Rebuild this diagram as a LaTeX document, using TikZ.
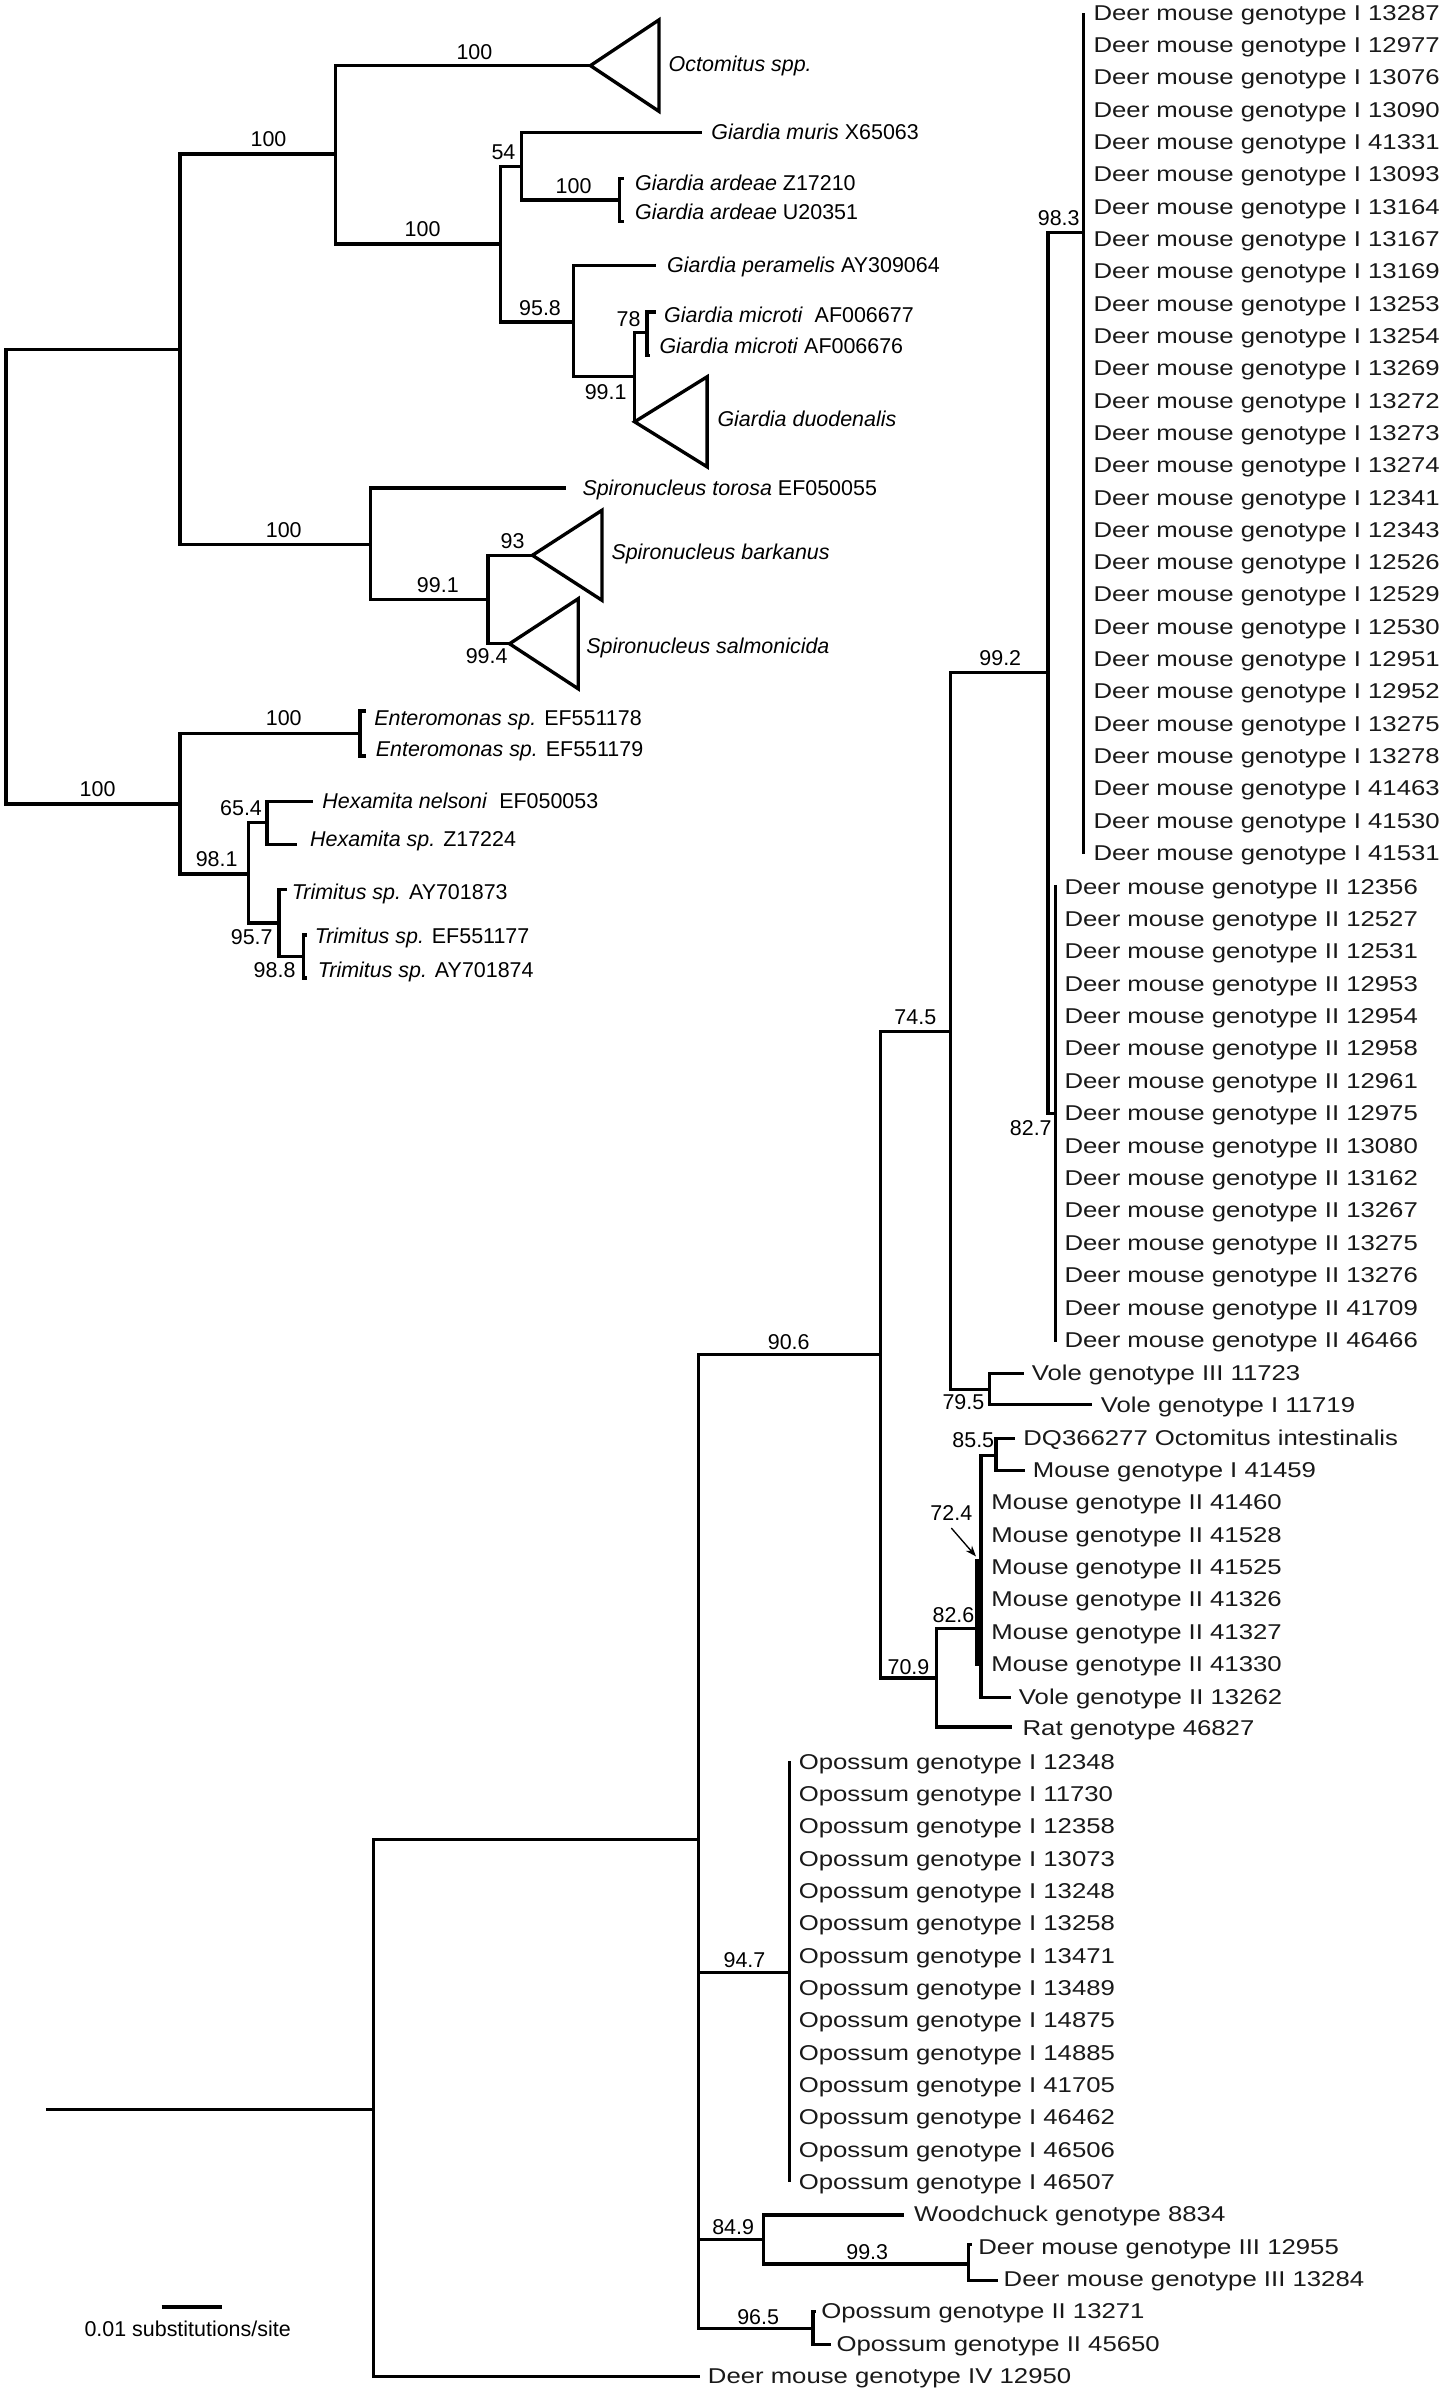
\documentclass[tikz,border=0pt]{standalone}
\usepackage{fontspec}
\setmainfont{Liberation Sans}
\newfontfamily\widesans[FakeStretch=1.2]{Liberation Sans}
\usepackage{tikz}
\usetikzlibrary{arrows.meta}

\begin{document}
\begin{tikzpicture}[x=0.02cm, y=-0.02cm]

	\tikzstyle{branch} = [line width=1.25pt]
	\tikzstyle{clade} = [line width=1.25pt, line join=miter]
	\tikzstyle{support} = [inner sep=0pt, font=\fontsize{8}{9}\selectfont]
	\tikzstyle{taxon} = [anchor=mid west, inner sep=0pt, font=\fontsize{8}{9}\selectfont]
	\tikzstyle{isolate} = [anchor=mid west, inner sep=0pt, text=black!90, font=\widesans\fontsize{8}{9}\selectfont]
	\tikzstyle{pointer} = [line width=0.5pt, -{Stealth[length=4pt, width=3pt]}]

	\useasboundingbox (0,0) rectangle (950,1568);

	% Upper tree: branch points
	\coordinate (r1) at (4,378);
	\coordinate (a) at (118,229);
	\coordinate (b) at (118,527);
	\coordinate (a1) at (220,101);
	\coordinate (octo) at (387,43);
	\coordinate (g) at (328,160);
	\coordinate (g1) at (342,109);
	\coordinate (muris) at (460,87);
	\coordinate (ga) at (406,131);
	\coordinate (ga1) at (409,117);
	\coordinate (ga2) at (409,145);
	\coordinate (g2) at (376,211);
	\coordinate (peram) at (430,174);
	\coordinate (gm) at (416,247);
	\coordinate (mi) at (424,218);
	\coordinate (mi1) at (430,204.5);
	\coordinate (mi2) at (426,233);
	\coordinate (duod) at (416,276.5);
	\coordinate (s) at (243,357);
	\coordinate (torosa) at (371,320);
	\coordinate (s1) at (320,393);
	\coordinate (bark) at (349,364);
	\coordinate (salm) at (334,422);
	\coordinate (e) at (236,481);
	\coordinate (e1) at (240,466);
	\coordinate (e2) at (240,495.5);
	\coordinate (t) at (163,573);
	\coordinate (h) at (175,539);
	\coordinate (h1) at (205,525.5);
	\coordinate (h2) at (195,553.5);
	\coordinate (tr) at (183,605);
	\coordinate (tr1) at (188,583);
	\coordinate (tr2) at (199,627);
	\coordinate (tr21) at (201,613);
	\coordinate (tr22) at (201,641);

	% Upper tree: branches
	\draw[branch] (r1) |- (a) (r1) |- (b);
	\draw[branch] (a) |- (a1) (a) |- (s);
	\draw[branch] (a1) |- (octo) (a1) |- (g);
	\draw[branch] (g) |- (g1) (g) |- (g2);
	\draw[branch] (g1) |- (muris) (g1) |- (ga);
	\draw[branch] (ga) |- (ga1) (ga) |- (ga2);
	\draw[branch] (g2) |- (peram) (g2) |- (gm);
	\draw[branch] (gm) |- (mi) (gm) |- (duod);
	\draw[branch] (mi) |- (mi1) (mi) |- (mi2);
	\draw[branch] (s) |- (torosa) (s) |- (s1);
	\draw[branch] (s1) |- (bark) (s1) |- (salm);
	\draw[branch] (b) |- (e) (b) |- (t);
	\draw[branch] (e) |- (e1) (e) |- (e2);
	\draw[branch] (t) |- (h) (t) |- (tr);
	\draw[branch] (h) |- (h1) (h) |- (h2);
	\draw[branch] (tr) |- (tr1) (tr) |- (tr2);
	\draw[branch] (tr2) |- (tr21) (tr2) |- (tr22);

	% Collapsed clades
	\draw[clade] (octo) -- ++(45,-30) -- ++(0,60) -- cycle;
	\draw[clade] (duod) -- ++(47.5,-29.5) -- ++(0,59) -- cycle;
	\draw[clade] (bark) -- ++(45.6,-29.5) -- ++(0,59) -- cycle;
	\draw[clade] (salm) -- ++(45,-29.5) -- ++(0,59) -- cycle;

	% Upper tree: taxa
	\node[taxon] (octoT) at (438,42) {\textit{Octomitus spp.}};
	\node[taxon] (murisT) at (466,87) {\textit{Giardia muris} X65063};
	\node[taxon] (ardeaeA) at (416,120) {\textit{Giardia ardeae} Z17210};
	\node[taxon] (ardeaeB) at (416,139) {\textit{Giardia ardeae} U20351};
	\node[taxon] (peramT) at (437,174) {\textit{Giardia peramelis} AY309064};
	\node[taxon] (microA) at (435,206.6) {\textit{Giardia microti}\ \ AF006677};
	\node[taxon] (microB) at (432,227) {\textit{Giardia microti} AF006676};
	\node[taxon] (duodT) at (470,275) {\textit{Giardia duodenalis}};
	\node[taxon] (torosaT) at (381.5,320) {\textit{Spironucleus torosa} EF050055};
	\node[taxon] (barkT) at (400.5,362) {\textit{Spironucleus barkanus}};
	\node[taxon] (salmT) at (384,424) {\textit{Spironucleus salmonicida}};
	\node[taxon] (enteroA) at (245,471) {\textit{Enteromonas sp.} EF551178};
	\node[taxon] (enteroB) at (246,491) {\textit{Enteromonas sp.} EF551179};
	\node[taxon] (hexA) at (211,525.5) {\textit{Hexamita nelsoni}\ \ EF050053};
	\node[taxon] (hexB) at (203,550) {\textit{Hexamita sp.} Z17224};
	\node[taxon] (trimA) at (191,585) {\textit{Trimitus sp.} AY701873};
	\node[taxon] (trimB) at (206,614) {\textit{Trimitus sp.} EF551177};
	\node[taxon] (trimC) at (208,636) {\textit{Trimitus sp.} AY701874};

	% Upper tree: support values
	\node[support] (sA1) at (311,34) {100};
	\node[support] (sA2) at (176,91) {100};
	\node[support] (sA3) at (277,150) {100};
	\node[support] (sA4) at (330,100) {54};
	\node[support] (sA5) at (376,122) {100};
	\node[support] (sA6) at (354,202) {95.8};
	\node[support] (sA7) at (412,209) {78};
	\node[support] (sA8) at (397,257) {99.1};
	\node[support] (sA9) at (186,347.6) {100};
	\node[support] (sA10) at (287,383.6) {99.1};
	\node[support] (sA11) at (336,354.6) {93};
	\node[support] (sA12) at (319,430.4) {99.4};
	\node[support] (sA13) at (64,517) {100};
	\node[support] (sA14) at (186,470.5) {100};
	\node[support] (sA15) at (142,563) {98.1};
	\node[support] (sA16) at (158,529.5) {65.4};
	\node[support] (sA17) at (165,614) {95.7};
	\node[support] (sA18) at (180,636) {98.8};

	% Lower tree: branch points
	\coordinate (r2) at (30,1383);
	\coordinate (p) at (245,1383);
	\coordinate (q) at (458,1206);
	\coordinate (dmIV) at (459,1558);
	\coordinate (n90) at (577,888);
	\coordinate (n74) at (623,676);
	\coordinate (n99) at (687,441);
	\coordinate (n98) at (710.4,152.3);
	\coordinate (n98top) at (710.4,8.7);
	\coordinate (n98bot) at (710.4,559.5);
	\coordinate (n82) at (691.8,730);
	\coordinate (n82top) at (691.8,580);
	\coordinate (n82bot) at (691.8,879.8);
	\coordinate (n79) at (648.6,911);
	\coordinate (vole3) at (671.3,900.5);
	\coordinate (vole1) at (716,920.8);
	\coordinate (n70) at (614,1100);
	\coordinate (n826) at (643,1067.7);
	\coordinate (n85) at (653,954);
	\coordinate (dq) at (665.6,943);
	\coordinate (ms1) at (672,964);
	\coordinate (vole2) at (662.5,1112.6);
	\coordinate (rat) at (663.6,1132);
	\coordinate (n724top) at (641.5,1022);
	\coordinate (n724bot) at (641.5,1092);
	\coordinate (n94) at (517.4,1293);
	\coordinate (n94top) at (517.4,1154.5);
	\coordinate (n94bot) at (517.4,1430.6);
	\coordinate (n84) at (500.5,1468);
	\coordinate (wood) at (592.7,1452);
	\coordinate (n993) at (635,1484);
	\coordinate (dm3a) at (637,1471.5);
	\coordinate (dm3b) at (654.5,1494.7);
	\coordinate (n96) at (533,1526.3);
	\coordinate (op2a) at (535,1515);
	\coordinate (op2b) at (545,1537);

	% Lower tree: branches
	\draw[branch] (r2) -- (p);
	\draw[branch] (p) |- (q) (p) |- (dmIV);
	\draw[branch] (q) |- (n90) (q) |- (n94) (q) |- (n84) (q) |- (n96);
	\draw[branch] (n90) |- (n74) (n90) |- (n70);
	\draw[branch] (n74) |- (n99) (n74) |- (n79);
	\draw[branch] (n99) |- (n98) (n99) |- (n82);
	\draw[branch] (n98top) -- (n98bot);
	\draw[branch] (n82top) -- (n82bot);
	\draw[branch] (n79) |- (vole3) (n79) |- (vole1);
	\draw[branch] (n70) |- (n826) (n70) |- (rat);
	\draw[branch] (n826) |- (n85) (n826) |- (vole2);
	\draw[line width=2.4pt] (n724top) -- (n724bot);
	\draw[branch] (n85) |- (dq) (n85) |- (ms1);
	\draw[branch] (n94top) -- (n94bot);
	\draw[branch] (n84) |- (wood) (n84) |- (n993);
	\draw[branch] (n993) |- (dm3a) (n993) |- (dm3b);
	\draw[branch] (n96) |- (op2a) (n96) |- (op2b);

	% Lower tree: isolates
	\foreach \id [count=\i from 0] in {13287,12977,13076,13090,41331,13093,13164,13167,13169,13253,13254,13269,13272,13273,13274,12341,12343,12526,12529,12530,12951,12952,13275,13278,41463,41530,41531}
		\node[isolate] (dmI-\i) at (716.5,{8.7+21.18*\i}) {Deer mouse genotype I \id};
	\foreach \id [count=\i from 0] in {12356,12527,12531,12953,12954,12958,12961,12975,13080,13162,13267,13275,13276,41709,46466}
		\node[isolate] (dmII-\i) at (697.5,{581.4+21.23*\i}) {Deer mouse genotype II \id};
	\foreach \id [count=\i from 0] in {41460,41528,41525,41326,41327,41330}
		\node[isolate] (msII-\i) at (649.5,{985+21.2*\i}) {Mouse genotype II \id};
	\foreach \id [count=\i from 0] in {12348,11730,12358,13073,13248,13258,13471,13489,14875,14885,41705,46462,46506,46507}
		\node[isolate] (opI-\i) at (523.3,{1155.2+21.18*\i}) {Opossum genotype I \id};

	\node[isolate] (vole3T) at (676,900.5) {Vole genotype III 11723};
	\node[isolate] (vole1T) at (721.3,921) {Vole genotype I 11719};
	\node[isolate] (dqT) at (670.5,943) {DQ366277 Octomitus intestinalis};
	\node[isolate] (ms1T) at (676.7,964) {Mouse genotype I 41459};
	\node[isolate] (vole2T) at (667.6,1112.6) {Vole genotype II 13262};
	\node[isolate] (ratT) at (670,1133) {Rat genotype 46827};
	\node[isolate] (woodT) at (598.8,1451.5) {Woodchuck genotype 8834};
	\node[isolate] (dm3aT) at (641,1473) {Deer mouse genotype III 12955};
	\node[isolate] (dm3bT) at (657.6,1494.5) {Deer mouse genotype III 13284};
	\node[isolate] (op2aT) at (538,1515) {Opossum genotype II 13271};
	\node[isolate] (op2bT) at (548,1537) {Opossum genotype II 45650};
	\node[isolate] (dmIVT) at (463.7,1558) {Deer mouse genotype IV 12950};

	% Lower tree: support values
	\node[support] (sB1) at (517,880) {90.6};
	\node[support] (sB2) at (600,667) {74.5};
	\node[support] (sB3) at (655.7,431.6) {99.2};
	\node[support] (sB4) at (694,143) {98.3};
	\node[support] (sB5) at (675.7,739.8) {82.7};
	\node[support] (sB6) at (631.5,919) {79.5};
	\node[support] (sB7) at (595.5,1093) {70.9};
	\node[support] (sB8) at (625,1059) {82.6};
	\node[support] (sB9) at (638,944) {85.5};
	\node[support] (sB10) at (623.6,992) {72.4};
	\node[support] (sB11) at (488,1285) {94.7};
	\node[support] (sB12) at (480.6,1460) {84.9};
	\node[support] (sB13) at (568.5,1476) {99.3};
	\node[support] (sB14) at (497,1518.6) {96.5};
	\draw[pointer] ([yshift=-2.5pt]sB10.south) -- ([shift={(-1pt,1pt)}]n724top);

	% Scale bar
	\coordinate (sb1) at (106,1512);
	\coordinate (sb2) at (145.4,1512);
	\draw[line width=1.5pt] (sb1) -- (sb2);
	\node[support] (sbT) at (123,1526.5) {0.01 substitutions/site};

\end{tikzpicture}
\end{document}
